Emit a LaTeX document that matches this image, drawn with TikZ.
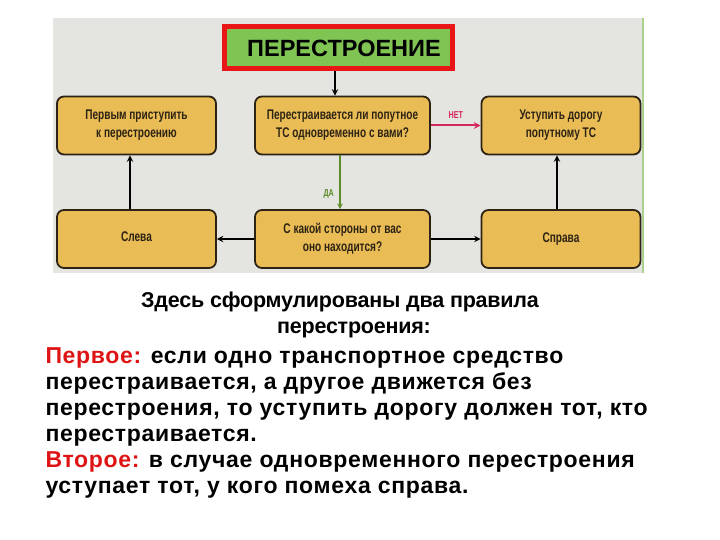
\documentclass[tikz,border=0pt]{standalone}
\usepackage{fontspec}
\setmainfont{Liberation Sans}
\newfontfamily\boxfont[FakeStretch=0.72]{Liberation Sans}
\newfontfamily\rulefont[LetterSpace=3]{Liberation Sans}
\newfontfamily\introfont[LetterSpace=-1]{Liberation Sans}
\definecolor{boxfill}{RGB}{234,188,86}
\definecolor{boxline}{RGB}{45,35,20}
\definecolor{titlegreen}{RGB}{128,196,84}
\definecolor{titlered}{RGB}{232,22,22}
\definecolor{netred}{RGB}{212,40,92}
\definecolor{dagreen}{RGB}{90,140,40}
\definecolor{scanbg}{RGB}{228,228,225}
\definecolor{edgegreen}{RGB}{170,210,140}
\definecolor{rulered}{RGB}{222,20,20}
\begin{document}
\begin{tikzpicture}[
  x=1pt, y=-1pt,
  stepbox/.style={draw=boxline, line width=1.8pt, fill=boxfill, rounded corners=7pt,
    minimum height=58pt, align=center, font=\boxfont\bfseries\fontsize{14}{18}\selectfont, text=boxline},
  narrowbox/.style={stepbox, minimum width=159pt},
  widebox/.style={stepbox, minimum width=175pt},
  titlebox/.style={draw=titlered, line width=5pt, fill=titlegreen, minimum width=228pt,
    minimum height=42pt, font=\bfseries\fontsize{23.5}{25}\selectfont},
  flow/.style={->, >=stealth, line width=1.8pt, black},
  yesarr/.style={flow, dagreen, line width=1.5pt},
  noarr/.style={flow, netred, line width=2pt},
  armlabel/.style={font=\boxfont\bfseries\fontsize{10}{11}\selectfont},
  rule/.style={anchor=base west, font=\rulefont\bfseries\fontsize{23}{25}\selectfont},
  rulemid/.style={anchor=base, font=\introfont\bfseries\fontsize{21.5}{23}\selectfont}
]
\useasboundingbox (0,0) rectangle (720,540);

% Scanned background
\fill[scanbg] (53,18) rectangle (643,273);
\draw[edgegreen, line width=1.2pt] (643,18) -- (643,273);

% Column and row positions
\def\colA{136.5}
\def\colB{342.5}
\def\colC{561}
\def\rowA{125.5}
\def\rowB{239}

% Title
\node[titlebox] (title) at (338,48) {\hspace*{12pt}ПЕРЕСТРОЕНИЕ};

% Top row
\node[narrowbox] (first) at (\colA,\rowA) {Первым приступить\\к перестроению};
\node[widebox] (ask) at (\colB,\rowA) {Перестраивается ли попутное\\ТС одновременно с вами?};
\node[narrowbox] (yield) at (\colC,\rowA) {Уступить дорогу\\попутному ТС};

% Bottom row
\node[narrowbox] (left) at (\colA,\rowB) {\raisebox{4pt}{Слева}};
\node[widebox] (side) at (\colB,\rowB) {С какой стороны от вас\\оно находится?};
\node[narrowbox] (right) at (\colC,\rowB) {\raisebox{-6pt}{Справа}};

% Connectors
\draw[flow] (title.south -| 335,0) -- (ask.north -| 335,0);
\draw[noarr] (ask.east) -- node[above=3pt, armlabel, netred] {НЕТ} (yield.west);
\draw[yesarr] (ask.south -| 340,0) -- node[left=2pt, pos=0.72, armlabel, dagreen] {ДА} (side.north -| 340,0);
\draw[flow] (side.west) -- (left.east);
\draw[flow] (side.east) -- (right.west);
\draw[flow] (left.north -| 130,0) -- (first.south -| 130,0);
\draw[flow] (right.north -| 557,0) -- (yield.south -| 557,0);

% Rules text
\node[rulemid] (introA) at (340,307) {Здесь сформулированы два правила};
\node[rulemid] (introB) at (354,333) {перестроения:};
\foreach \y/\name/\txt in {
  363/ruleA/{\textcolor{rulered}{Первое:} если одно транспортное средство},
  389/ruleB/{перестраивается, а другое движется без},
  415/ruleC/{перестроения, то уступить дорогу должен тот, кто},
  441/ruleD/{перестраивается.},
  467/ruleE/{\textcolor{rulered}{Второе:} в случае одновременного перестроения},
  493/ruleF/{уступает тот, у кого помеха справа.}%
}{
  \node[rule] (\name) at (42,\y) {\txt};
}

\end{tikzpicture}
\end{document}
